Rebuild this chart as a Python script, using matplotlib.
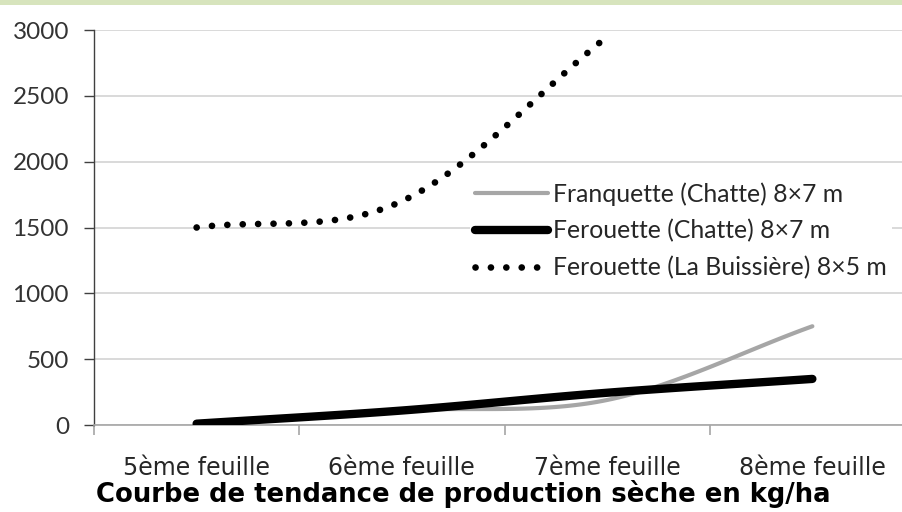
import matplotlib
matplotlib.use("Agg")
import matplotlib.pyplot as plt
from matplotlib.patches import Rectangle
import numpy as np

# categories and values (kg/ha)
categories = ['5ème feuille', '6ème feuille', '7ème feuille', '8ème feuille']
franquette_chatte = [0, 110, 190, 750]
ferouette_chatte = [10, 110, 245, 350]
ferouette_buissiere = [1500, 1700, 2950]

labels = ['Franquette (Chatte) 8×7 m',
          'Ferouette (Chatte) 8×7 m',
          'Ferouette (La Buissière) 8×5 m']


def smooth(values, n=40):
    # smoothed line like a spreadsheet "lissage" (Catmull-Rom through the points)
    y = np.asarray(values, dtype=float)
    k = len(y)
    m = np.zeros(k)
    for i in range(k):
        if i == 0:
            m[i] = y[1] - y[0]
        elif i == k - 1:
            m[i] = y[-1] - y[-2]
        else:
            m[i] = (y[i + 1] - y[i - 1]) / 2
    xs, ys = [], []
    for i in range(k - 1):
        t = np.linspace(0, 1, n)
        h00 = 2 * t**3 - 3 * t**2 + 1
        h10 = t**3 - 2 * t**2 + t
        h01 = -2 * t**3 + 3 * t**2
        h11 = t**3 - t**2
        xs.append(i + t)
        ys.append(h00 * y[i] + h10 * m[i] + h01 * y[i + 1] + h11 * m[i + 1])
    return np.concatenate(xs), np.concatenate(ys)


fig = plt.figure(figsize=(9.02, 5.12), dpi=100)
fig.patches.append(Rectangle((0, 1 - 5 / 512), 1, 5 / 512, transform=fig.transFigure,
                             facecolor='#D7E4BD', edgecolor='none'))

ax = fig.add_axes([94 / 902, 1 - 425 / 512, 821 / 902, 395 / 512])

x1, y1 = smooth(franquette_chatte)
x2, y2 = smooth(ferouette_chatte)
x3, y3 = smooth(ferouette_buissiere)

ax.plot(x1, y1, color='#A6A6A6', lw=3.0, solid_capstyle='round', label=labels[0], zorder=3)
ax.plot(x2, y2, color='black', lw=6.0, solid_capstyle='round', label=labels[1], zorder=4)
ax.plot(x3, y3, color='black', lw=4.8, linestyle=(0, (0.01, 2.3)), dash_capstyle='round',
        label=labels[2], zorder=4)

ax.set_xlim(-0.5, 3.5)
ax.set_ylim(0, 3000)
ax.set_yticks(np.arange(0, 3001, 500))
ax.set_xticks(range(len(categories)))
ax.set_xticklabels(categories)
ax.set_xticks(np.arange(-0.5, 4, 1), minor=True)

ax.grid(axis='y', color='#D9D9D9', lw=1.4)
ax.set_axisbelow(True)
for s in ['top', 'right']:
    ax.spines[s].set_visible(False)
ax.spines['left'].set_color('#404040')
ax.spines['left'].set_linewidth(1.0)
ax.spines['bottom'].set_color('#A6A6A6')
ax.spines['bottom'].set_linewidth(1.2)

ax.tick_params(axis='y', direction='out', length=7, width=1.0, color='#404040',
               labelsize=17.5, labelcolor='#333333', pad=11)
ax.tick_params(axis='x', which='major', length=0, labelsize=17, labelcolor='#262626', pad=22)
ax.tick_params(axis='x', which='minor', direction='out', length=7, width=1.2, color='#A6A6A6')
for t in ax.get_yticklabels():
    t.set_fontfamily('Lato')
for t in ax.get_xticklabels():
    t.set_fontfamily('DejaVu Sans')

leg = ax.legend(loc='upper left', bbox_to_anchor=(458 / 902, 1 - 165 / 512),
                bbox_transform=fig.transFigure, frameon=True, fancybox=False,
                edgecolor='none', facecolor='white', framealpha=1,
                prop={'family': 'Lato', 'size': 17.8}, handlelength=2.95,
                handletextpad=0.2, labelspacing=0.55, borderpad=0.2)
for t in leg.get_texts():
    t.set_color('#262626')

fig.text(463 / 902, 1 - 494 / 512, 'Courbe de tendance de production sèche en kg/ha',
         ha='center', va='center', fontsize=18.6, fontweight='bold',
         family='DejaVu Sans', color='black')

fig.savefig('out.png', dpi=100)
